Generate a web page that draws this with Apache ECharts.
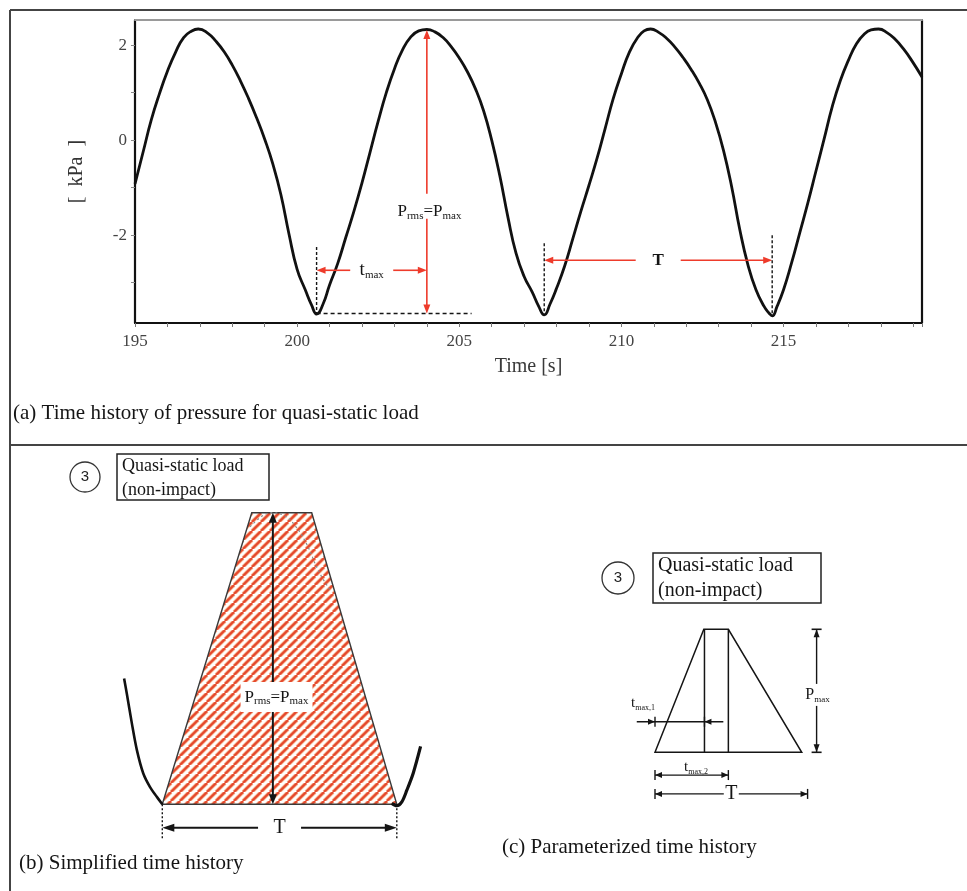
<!DOCTYPE html>
<html>
<head>
<meta charset="utf-8">
<script src="https://cdn.jsdelivr.net/npm/echarts@6/dist/echarts.min.js"></script>
<style>
  html, body { margin: 0; padding: 0; background: #fff; }
  #chart { width: 967px; height: 891px; }
</style>
</head>
<body>
<div id="chart"></div>
<script>
// ---------- (a) recorded pressure history ----------
const time = [
  195.0, 195.25, 195.5, 195.75, 196.0, 196.25, 196.5, 196.75, 196.95, 197.25,
  197.5, 197.75, 198.0, 198.25, 198.5, 198.75, 199.0, 199.25, 199.5, 199.75,
  200.0, 200.25, 200.45, 200.6, 200.8, 201.0, 201.25, 201.5, 201.75, 202.0,
  202.25, 202.5, 202.75, 203.0, 203.25, 203.5, 203.75, 204.0, 204.25, 204.5,
  204.75, 205.0, 205.25, 205.5, 205.75, 206.0, 206.25, 206.5, 206.75, 207.0,
  207.25, 207.45, 207.62, 207.8, 208.0, 208.25, 208.5, 208.75, 209.0, 209.25,
  209.5, 209.75, 210.0, 210.25, 210.5, 210.7, 210.9, 211.15, 211.4, 211.65,
  211.9, 212.15, 212.4, 212.65, 212.9, 213.15, 213.4, 213.65, 213.9, 214.15,
  214.4, 214.55, 214.65, 214.8, 215.0, 215.25, 215.5, 215.75, 216.0, 216.25,
  216.5, 216.75, 217.0, 217.25, 217.5, 217.7, 217.93, 218.2, 218.45, 218.7,
  218.95, 219.27
];
const pressure = [
  -0.92, -0.25, 0.42, 0.97, 1.45, 1.85, 2.16, 2.30, 2.34, 2.25,
  2.08, 1.86, 1.58, 1.25, 0.88, 0.47, 0.02, -0.50, -1.15, -1.98,
  -2.72, -3.15, -3.48, -3.66, -3.45, -3.05, -2.60, -2.05, -1.50, -0.90,
  -0.25, 0.40, 1.00, 1.50, 1.90, 2.17, 2.30, 2.33, 2.28, 2.16,
  1.97, 1.73, 1.44, 1.08, 0.62, 0.00, -0.75, -1.62, -2.38, -2.87,
  -3.20, -3.50, -3.68, -3.45, -3.12, -2.65, -2.08, -1.50, -0.95, -0.38,
  0.25, 0.88, 1.40, 1.86, 2.16, 2.30, 2.34, 2.27, 2.14, 1.96,
  1.74, 1.49, 1.20, 0.85, 0.38, -0.22, -0.98, -1.88, -2.62, -3.15,
  -3.50, -3.64, -3.70, -3.50, -3.15, -2.58, -1.95, -1.32, -0.65, 0.02,
  0.70, 1.25, 1.68, 2.03, 2.24, 2.32, 2.34, 2.26, 2.12, 1.92,
  1.68, 1.33
];
const timeTickLabels = [195, 200, 205, 210, 215];
const pressureTickLabels = [-2, 0, 2];

// annotated levels and instants (s, kPa)
const troughLevel = -3.65;
const peakLevel = 2.32;
const troughTimes = [200.6, 207.62, 214.65];
const peakTime = 204.0;
const riseArrowLevel = -2.74;      // t_max arrow height
const periodArrowLevel = -2.53;    // T arrow height
const guideTops = [-2.25, -2.17, -2.0];
const floorGuideEnd = 205.38;
const riseLabelLevel = -1.51;

// ---------- (b) simplified history (s, kPa) ----------
const simplifiedTime = [0, 2.67, 4.46, 7.0];
const simplifiedLoad = [0, 6.0, 6.0, 0];
const leadTroughTime = [-1.14, -1.06, -0.91, -0.76, -0.57, -0.37, -0.17, 0];
const leadTroughLoad = [2.59, 2.28, 1.67, 1.12, 0.64, 0.36, 0.16, 0];
const tailTroughTime = [6.85, 7.0, 7.15, 7.3, 7.49, 7.71];
const tailTroughLoad = [0.02, -0.03, 0.05, 0.29, 0.64, 1.19];
const peakTraceTime = [2.62, 2.98, 3.27, 3.66, 3.99, 4.32, 4.65, 5.0];
const peakTraceLoad = [5.71, 5.93, 6.0, 5.93, 5.71, 5.34, 4.82, 4.41];
const simplifiedPeriod = 7.0;
const simplifiedPeakAt = 3.3;

// ---------- (c) parameterized history ----------
const paramTime = [0, 2.33, 3.5, 7.0];
const paramLoad = [0, 6.0, 6.0, 0];
const paramTMax1 = 2.36;
const paramTMax2 = 3.5;
const paramPMax = 6.0;
const paramPeriodEnd = 7.28;

const SERIF = '"Liberation Serif", "Times New Roman", serif';
const RED = '#ee3b2b';
const INK = '#151515';

// ---------- drawing helpers ----------
function lineEl(a, b, color, width, dash) {
  return { type: 'line', shape: { x1: a[0], y1: a[1], x2: b[0], y2: b[1] },
    style: { stroke: color, lineWidth: width, lineDash: dash || null } };
}
function headEl(tip, from, len, half, color) {
  const dx = tip[0] - from[0], dy = tip[1] - from[1];
  const L = Math.hypot(dx, dy) || 1, ux = dx / L, uy = dy / L;
  const bx = tip[0] - ux * len, by = tip[1] - uy * len;
  return { type: 'polygon', shape: { points: [tip, [bx - uy * half, by + ux * half], [bx + uy * half, by - ux * half]] },
    style: { fill: color } };
}
function gapLines(a, b, center, gap, color, width) {
  const dx = b[0] - a[0], dy = b[1] - a[1], L = Math.hypot(dx, dy) || 1;
  const ux = dx / L, uy = dy / L;
  return [
    lineEl(a, [center[0] - ux * gap / 2, center[1] - uy * gap / 2], color, width),
    lineEl([center[0] + ux * gap / 2, center[1] + uy * gap / 2], b, color, width)
  ];
}
function textEl(pos, text, size, extra) {
  return { type: 'text', x: pos[0], y: pos[1], z2: 20,
    style: Object.assign({ text: text, font: size + 'px ' + SERIF, fill: INK,
      align: 'center', verticalAlign: 'middle' }, extra || {}) };
}
function subRich(size, subSize) {
  return {
    m: { font: size + 'px ' + SERIF, fill: INK, lineHeight: size + 2 },
    s: { font: subSize + 'px ' + SERIF, fill: INK, lineHeight: subSize, verticalAlign: 'bottom' }
  };
}
function vTick(p, h, color, w) { return lineEl([p[0], p[1] - h], [p[0], p[1] + h], color, w); }
function hTick(p, h, color, w) { return lineEl([p[0] - h, p[1]], [p[0] + h, p[1]], color, w); }

function hatchPattern() {
  const c = document.createElement('canvas');
  c.width = 9; c.height = 9;
  const g = c.getContext('2d');
  g.fillStyle = '#ffffff'; g.fillRect(0, 0, 9, 9);
  const stripe = (color, w) => {
    g.strokeStyle = color; g.lineWidth = w;
    for (const k of [-9, 0, 9]) { g.beginPath(); g.moveTo(k, 9); g.lineTo(k + 9, 0); g.stroke(); }
  };
  stripe('#f6b08a', 3.8);
  stripe('#e4462c', 2.0);
  return c;
}
const hatch = hatchPattern();

// ---------- annotation renderers ----------
function renderPanelA(params, api) {
  const P = (t, p) => api.coord([t, p]);
  const els = [];
  // p_rms = p_max vertical arrow
  const top = P(peakTime, peakLevel), bot = P(peakTime, troughLevel);
  const gapC = P(peakTime, riseLabelLevel + 0.12);
  els.push(...gapLines([top[0], top[1] + 6], [bot[0], bot[1] - 6], gapC, 25, RED, 1.6));
  els.push(headEl(top, bot, 9, 3.5, RED), headEl(bot, top, 9, 3.5, RED));
  els.push(textEl(P(peakTime + 0.08, riseLabelLevel), '{m|P}{s|rms}{m|=P}{s|max}', 17, { rich: subRich(17, 11) }));
  // t_max arrow
  const r0 = P(troughTimes[0], riseArrowLevel), r1 = P(peakTime, riseArrowLevel);
  const rc = [(r0[0] + r1[0]) / 2, r0[1]];
  els.push(...gapLines([r0[0] + 6, r0[1]], [r1[0] - 6, r1[1]], rc, 43, RED, 1.6));
  els.push(headEl(r0, r1, 9, 3.5, RED), headEl(r1, r0, 9, 3.5, RED));
  els.push(textEl(rc, '{m|t}{s|max}', 19, { rich: subRich(19, 11) }));
  // T arrow
  const q0 = P(troughTimes[1], periodArrowLevel), q1 = P(troughTimes[2], periodArrowLevel);
  const qc = [(q0[0] + q1[0]) / 2, q0[1]];
  els.push(...gapLines([q0[0] + 6, q0[1]], [q1[0] - 6, q1[1]], qc, 45, RED, 1.6));
  els.push(headEl(q0, q1, 9, 3.5, RED), headEl(q1, q0, 9, 3.5, RED));
  els.push(textEl(qc, 'T', 17, { font: 'bold 17px ' + SERIF }));
  // black dashed guides
  troughTimes.forEach((t, i) => {
    els.push(lineEl(P(t, guideTops[i]), P(t, troughLevel), INK, 1.4, [3, 2]));
  });
  els.push(lineEl(P(troughTimes[0], troughLevel), P(floorGuideEnd, troughLevel), INK, 1.4, [4, 3]));
  return { type: 'group', children: els };
}

function renderPanelB(params, api) {
  const P = (t, p) => api.coord([t, p]);
  const els = [];
  const poly = simplifiedTime.map((t, i) => P(t, simplifiedLoad[i]));
  els.push({ type: 'polygon', shape: { points: poly },
    style: { fill: { image: hatch, repeat: 'repeat' }, stroke: '#3a3a3a', lineWidth: 1.4 } });
  // faint trace of the measured peak
  els.push({ type: 'polyline', shape: { points: peakTraceTime.map((t, i) => P(t, peakTraceLoad[i])), smooth: 0.4 },
    style: { stroke: '#8a8a8a', lineWidth: 1.2, lineDash: [2, 3], fill: null } });
  // peak arrow
  const top = P(simplifiedPeakAt, simplifiedLoad[1]), bot = P(simplifiedPeakAt, 0);
  els.push(lineEl([top[0], top[1] + 5], [bot[0], bot[1] - 5], INK, 2));
  els.push(headEl(top, bot, 10, 4, INK), headEl(bot, top, 10, 4, INK));
  els.push(textEl(P(3.41, 2.21), '{m|P}{s|rms}{m|=P}{s|max}', 17,
    { rich: subRich(17, 11), backgroundColor: '#ffffff', padding: [6, 4, 5, 4] }));
  // T dimension
  const level = -0.48;
  const a = P(0, level), b = P(simplifiedPeriod, level), c = [(a[0] + b[0]) / 2, a[1]];
  els.push(...gapLines([a[0] + 6, a[1]], [b[0] - 6, b[1]], c, 43, INK, 2));
  els.push(headEl(a, b, 12, 4, INK), headEl(b, a, 12, 4, INK));
  els.push(textEl(c, 'T', 20));
  els.push(lineEl(P(0, 0), P(0, -0.73), INK, 1.4, [2, 2]));
  els.push(lineEl(P(simplifiedPeriod, 0), P(simplifiedPeriod, -0.73), INK, 1.4, [2, 2]));
  return { type: 'group', children: els };
}

function renderPanelC(params, api) {
  const P = (t, p) => api.coord([t, p]);
  const els = [];
  const poly = paramTime.map((t, i) => P(t, paramLoad[i]));
  els.push({ type: 'polygon', shape: { points: poly }, style: { fill: 'none', stroke: INK, lineWidth: 1.5 } });
  els.push(lineEl(P(paramTMax1, 0), P(paramTMax1, paramPMax), INK, 1.5));
  els.push(lineEl(P(paramTMax2, 0), P(paramTMax2, paramPMax), INK, 1.5));
  // P_max
  const pt = P(7.71, paramPMax), pb = P(7.71, 0);
  els.push(lineEl(pt, pb, INK, 1.4));
  els.push(headEl(pt, pb, 8, 3, INK), headEl(pb, pt, 8, 3, INK));
  els.push(hTick(pt, 5, INK, 1.6), hTick(pb, 5, INK, 1.6));
  els.push(textEl(P(7.75, 2.8), '{m|P}{s|max}', 16, { rich: subRich(16, 9), backgroundColor: '#ffffff', padding: [2, 0] }));
  // t_max,1
  const l1 = 1.49;
  const e0 = P(-0.87, l1), e1 = P(3.26, l1), k0 = P(0, l1), k1 = P(paramTMax1, l1);
  els.push(lineEl(e0, e1, INK, 1.3));
  els.push(headEl(k0, e0, 7, 3, INK), headEl(k1, e1, 7, 3, INK));
  els.push(vTick(k0, 5, INK, 1.4), vTick(k1, 5, INK, 1.4));
  els.push(textEl(P(-0.57, 2.39), '{m|t}{s|max,1}', 15, { rich: subRich(15, 8) }));
  // t_max,2
  const l2 = -1.11;
  const m0 = P(0, l2), m1 = P(paramTMax2, l2);
  els.push(lineEl(m0, m1, INK, 1.3));
  els.push(headEl(m0, m1, 7, 3, INK), headEl(m1, m0, 7, 3, INK));
  els.push(vTick(m0, 5, INK, 1.4), vTick(m1, 5, INK, 1.4));
  els.push(textEl(P(1.96, -0.72), '{m|t}{s|max,2}', 15, { rich: subRich(15, 8) }));
  // T
  const l3 = -2.03;
  const n0 = P(0, l3), n1 = P(paramPeriodEnd, l3), nc = [(n0[0] + n1[0]) / 2, n0[1]];
  els.push(...gapLines(n0, n1, nc, 15, INK, 1.3));
  els.push(headEl(n0, n1, 7, 3, INK), headEl(n1, n0, 7, 3, INK));
  els.push(vTick(n0, 5, INK, 1.4), vTick(n1, 5, INK, 1.4));
  els.push(textEl(nc, 'T', 20));
  return { type: 'group', children: els };
}

// ---------- static frame, captions and tags ----------
function tag(cx, cy, r, label) {
  return [
    { type: 'circle', shape: { cx: cx, cy: cy, r: r }, style: { fill: '#fff', stroke: '#333', lineWidth: 1.3 } },
    { type: 'text', x: cx, y: cy, style: { text: label, font: '15px "Liberation Sans", Arial, sans-serif', fill: '#222', align: 'center', verticalAlign: 'middle' } }
  ];
}
function box(x, y, w, h, lines, size, firstY, lineGap) {
  const els = [{ type: 'rect', shape: { x: x, y: y, width: w, height: h }, style: { fill: '#fff', stroke: '#222', lineWidth: 1.5 } }];
  lines.forEach((s, i) => els.push({ type: 'text', x: x + 5, y: y + firstY + i * lineGap,
    style: { text: s, font: size + 'px ' + SERIF, fill: INK, align: 'left', verticalAlign: 'middle' } }));
  return els;
}
function caption(x, y, s) {
  return { type: 'text', x: x, y: y, style: { text: s, font: '21px ' + SERIF, fill: INK, align: 'left', verticalAlign: 'middle' } };
}

const graphicEls = [
  { type: 'line', shape: { x1: 10, y1: 10, x2: 967, y2: 10 }, style: { stroke: '#444', lineWidth: 2 } },
  { type: 'line', shape: { x1: 10, y1: 10, x2: 10, y2: 891 }, style: { stroke: '#444', lineWidth: 2 } },
  { type: 'line', shape: { x1: 10, y1: 445, x2: 967, y2: 445 }, style: { stroke: '#444', lineWidth: 2 } },
  caption(13, 413, '(a) Time history of pressure for quasi-static load'),
  caption(19, 863, '(b) Simplified time history'),
  caption(502, 847, '(c) Parameterized time history'),
  ...tag(85, 477, 15, '3'),
  ...box(117, 454, 152, 46, ['Quasi-static load', '(non-impact)'], 18, 12, 24),
  ...tag(618, 578, 16, '3'),
  ...box(653, 553, 168, 50, ['Quasi-static load', '(non-impact)'], 20, 13, 25)
];

const chart = echarts.init(document.getElementById('chart'), null, { renderer: 'canvas' });
const noLine = { show: false };

chart.setOption({
  animation: false,
  backgroundColor: '#ffffff',
  grid: [
    { left: 135, top: 20, width: 787, height: 303 },
    { left: 95.3, top: 464.1, width: 335, height: 388.8 },
    { left: 634.04, top: 608.8, width: 209.6, height: 205 }
  ],
  xAxis: [
    { gridIndex: 0, type: 'value', min: 195, max: 219.27, interval: 1, position: 'bottom',
      name: 'Time [s]', nameLocation: 'middle', nameGap: 34,
      nameTextStyle: { fontFamily: SERIF, fontSize: 20, color: '#3a3a3a' },
      axisLine: { onZero: false, lineStyle: { color: '#111', width: 2.2 } },
      axisTick: { show: true, length: 4, lineStyle: { color: '#777', width: 1 } },
      axisLabel: { margin: 10, fontFamily: SERIF, fontSize: 17, color: '#444',
        formatter: v => timeTickLabels.includes(v) ? String(v) : '' },
      splitLine: noLine },
    { gridIndex: 0, type: 'value', min: 195, max: 219.27, position: 'top',
      axisLine: { onZero: false, lineStyle: { color: '#9a9a9a', width: 2 } },
      axisTick: noLine, axisLabel: noLine, splitLine: noLine },
    { gridIndex: 1, type: 'value', min: -2, max: 8, show: false, splitLine: noLine },
    { gridIndex: 2, type: 'value', min: -1, max: 9, show: false, splitLine: noLine }
  ],
  yAxis: [
    { gridIndex: 0, type: 'value', min: -3.85, max: 2.53, splitNumber: 6,
      name: '[  kPa  ]', nameLocation: 'middle', nameGap: 48, nameRotate: 90,
      nameTextStyle: { fontFamily: SERIF, fontSize: 20, color: '#333' },
      axisLine: { show: true, onZero: false, lineStyle: { color: '#111', width: 2.2 } },
      axisTick: { show: true, length: 4, lineStyle: { color: '#888', width: 1 } },
      axisLabel: { margin: 8, fontFamily: SERIF, fontSize: 17, color: '#444',
        showMinLabel: false, showMaxLabel: false,
        formatter: v => pressureTickLabels.includes(v) ? String(v) : '' },
      splitLine: noLine },
    { gridIndex: 0, type: 'value', min: -3.85, max: 2.53, position: 'right',
      axisLine: { show: true, onZero: false, lineStyle: { color: '#111', width: 2.2 } },
      axisTick: noLine, axisLabel: noLine, splitLine: noLine },
    { gridIndex: 1, type: 'value', min: -1, max: 7, show: false, splitLine: noLine },
    { gridIndex: 2, type: 'value', min: -3, max: 7, show: false, splitLine: noLine }
  ],
  graphic: { elements: graphicEls },
  series: [
    { type: 'line', xAxisIndex: 0, yAxisIndex: 0, data: time.map((t, i) => [t, pressure[i]]),
      showSymbol: false, smooth: 0.5, lineStyle: { color: '#111', width: 2.8 }, z: 3, silent: true },
    { type: 'custom', xAxisIndex: 0, yAxisIndex: 0, data: [[peakTime, 0]], renderItem: renderPanelA, z: 5, silent: true },
    { type: 'custom', xAxisIndex: 2, yAxisIndex: 2, data: [[0, 0]], renderItem: renderPanelB, z: 3, silent: true },
    { type: 'line', xAxisIndex: 2, yAxisIndex: 2, data: leadTroughTime.map((t, i) => [t, leadTroughLoad[i]]),
      showSymbol: false, smooth: 0.3, lineStyle: { color: '#111', width: 2.6 }, z: 4, silent: true },
    { type: 'line', xAxisIndex: 2, yAxisIndex: 2, data: tailTroughTime.map((t, i) => [t, tailTroughLoad[i]]),
      showSymbol: false, smooth: 0.3, lineStyle: { color: '#111', width: 3.2 }, z: 4, silent: true },
    { type: 'custom', xAxisIndex: 3, yAxisIndex: 3, data: [[0, 0]], renderItem: renderPanelC, z: 3, silent: true }
  ]
});
</script>
</body>
</html>
